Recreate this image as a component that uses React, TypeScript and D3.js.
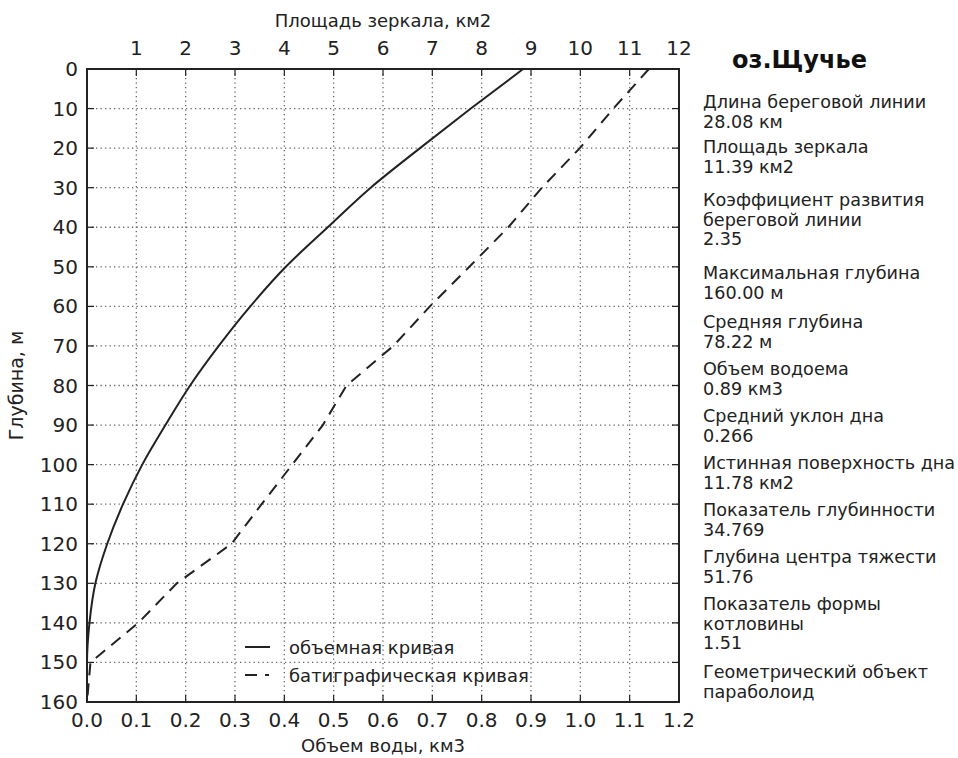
import React from "react";
import * as d3 from "d3";

const depths = [0, 10, 20, 30, 40, 50, 60, 70, 80, 90, 100, 110, 120, 130, 140, 150, 160];
const volumeKm3 = [0.884, 0.778, 0.675, 0.575, 0.488, 0.403, 0.331, 0.267, 0.209, 0.159, 0.112, 0.073, 0.041, 0.017, 0.005, 0.0, 0.0];
const areaKm2 = [11.39, 10.67, 9.99, 9.22, 8.54, 7.75, 6.95, 6.21, 5.26, 4.78, 4.16, 3.54, 2.93, 1.82, 1.04, 0.07, 0.0];

const volumeTicks = [0, 0.1, 0.2, 0.3, 0.4, 0.5, 0.6, 0.7, 0.8, 0.9, 1.0, 1.1, 1.2];
const areaTicks = [1, 2, 3, 4, 5, 6, 7, 8, 9, 10, 11, 12];
const depthTicks = [0, 10, 20, 30, 40, 50, 60, 70, 80, 90, 100, 110, 120, 130, 140, 150, 160];

const lakeTitle = "оз.Щучье";
const infoBlocks: string[][] = [
  ["Длина береговой линии", "28.08 км"],
  ["Площадь зеркала", "11.39 км2"],
  ["Коэффициент развития", "береговой линии", "2.35"],
  ["Максимальная глубина", "160.00 м"],
  ["Средняя глубина", "78.22 м"],
  ["Объем водоема", "0.89 км3"],
  ["Средний уклон дна", "0.266"],
  ["Истинная поверхность дна", "11.78 км2"],
  ["Показатель глубинности", "34.769"],
  ["Глубина центра тяжести", "51.76"],
  ["Показатель формы", "котловины", "1.51"],
  ["Геометрический объект", "параболоид"],
];
const legendLabels = ["объемная кривая", "батиграфическая кривая"];
const topAxisTitle = "Площадь зеркала, км2";
const bottomAxisTitle = "Объем воды, км3";
const leftAxisTitle = "Глубина, м";

const FONT = "'DejaVu Sans', Verdana, sans-serif";

export default function App() {
  const left = 87, right = 679, top = 69, bottom = 702;
  const x = d3.scaleLinear().domain([0, 1.2]).range([left, right]);
  const xTop = d3.scaleLinear().domain([0, 12]).range([left, right]);
  const y = d3.scaleLinear().domain([0, 160]).range([top, bottom]);

  const volLine = d3
    .line<number>()
    .x((_, i) => x(volumeKm3[i]))
    .y((d) => y(d))
    .curve(d3.curveMonotoneY)(depths) as string;
  const areaLine = d3
    .line<number>()
    .x((_, i) => xTop(areaKm2[i]))
    .y((d) => y(d))(depths) as string;

  const tickLen = 7;
  const lineColor = "#222";

  // info panel layout: baseline of the first line of each block
  const blockStarts = [108, 153, 206, 279, 328, 375, 422, 469, 516, 563, 610, 678];
  const lineH = 19.5;
  const infoLines: { text: string; yy: number }[] = [];
  infoBlocks.forEach((b, i) => {
    b.forEach((t, j) => infoLines.push({ text: t, yy: blockStarts[i] + j * lineH }));
  });

  return (
    <svg width={958} height={758} style={{ position: "absolute", left: 0, top: 0, background: "#fff" }} fontFamily={FONT}>
      <rect x={0} y={0} width={958} height={758} fill="#fff" />
      {/* grid */}
      <g stroke="#666" strokeWidth={1.3} strokeDasharray="1.3,3.2">
        {volumeTicks.slice(1, -1).map((t) => (
          <line key={"gx" + t} x1={x(t)} x2={x(t)} y1={top} y2={bottom} />
        ))}
        {depthTicks.slice(1, -1).map((t) => (
          <line key={"gy" + t} x1={left} x2={right} y1={y(t)} y2={y(t)} />
        ))}
      </g>
      {/* ticks (inward on all sides) */}
      <g stroke="#222" strokeWidth={1.2}>
        {volumeTicks.map((t) => (
          <g key={"tx" + t}>
            <line x1={x(t)} x2={x(t)} y1={bottom} y2={bottom - tickLen} />
            <line x1={x(t)} x2={x(t)} y1={top} y2={top + tickLen} />
          </g>
        ))}
        {depthTicks.map((t) => (
          <g key={"ty" + t}>
            <line x1={left} x2={left + tickLen} y1={y(t)} y2={y(t)} />
            <line x1={right} x2={right - tickLen} y1={y(t)} y2={y(t)} />
          </g>
        ))}
      </g>
      {/* curves */}
      <path d={volLine} fill="none" stroke={lineColor} strokeWidth={2} />
      <path d={areaLine} fill="none" stroke={lineColor} strokeWidth={2} strokeDasharray="12,8" />
      {/* frame */}
      <rect x={left} y={top} width={right - left} height={bottom - top} fill="none" stroke="#222" strokeWidth={2} />
      {/* tick labels */}
      <g fontSize={20} fill="#222">
        {volumeTicks.map((t) => (
          <text key={"lx" + t} x={x(t)} y={727} textAnchor="middle">
            {d3.format(".1f")(t)}
          </text>
        ))}
        {areaTicks.map((t) => (
          <text key={"la" + t} x={xTop(t)} y={55} textAnchor="middle">
            {t}
          </text>
        ))}
        {depthTicks.map((t) => (
          <text key={"ly" + t} x={78} y={y(t)} textAnchor="end" dominantBaseline="central">
            {t}
          </text>
        ))}
      </g>
      {/* axis titles */}
      <g fontSize={18} fill="#222">
        <text x={(left + right) / 2} y={27} textAnchor="middle">{topAxisTitle}</text>
        <text x={(left + right) / 2} y={752} textAnchor="middle">{bottomAxisTitle}</text>
        <text transform={`translate(16,${(top + bottom) / 2}) rotate(-90)`} fontSize={19} textAnchor="middle" dominantBaseline="central">
          {leftAxisTitle}
        </text>
      </g>
      {/* legend */}
      <g fontSize={18} fill="#222">
        <line x1={245} x2={270} y1={647} y2={647} stroke={lineColor} strokeWidth={2} />
        <text x={289} y={647} dominantBaseline="central">{legendLabels[0]}</text>
        <line x1={245} x2={269} y1={675} y2={675} stroke={lineColor} strokeWidth={2} strokeDasharray="12,8" />
        <text x={289} y={675} dominantBaseline="central">{legendLabels[1]}</text>
      </g>
      {/* info panel */}
      <text x={732} y={68} fontSize={24} fontWeight="bold" fill="#111">{lakeTitle}</text>
      <g fontSize={17.6} fill="#222">
        {infoLines.map((l, i) => (
          <text key={"info" + i} x={703} y={l.yy}>{l.text}</text>
        ))}
      </g>
    </svg>
  );
}
